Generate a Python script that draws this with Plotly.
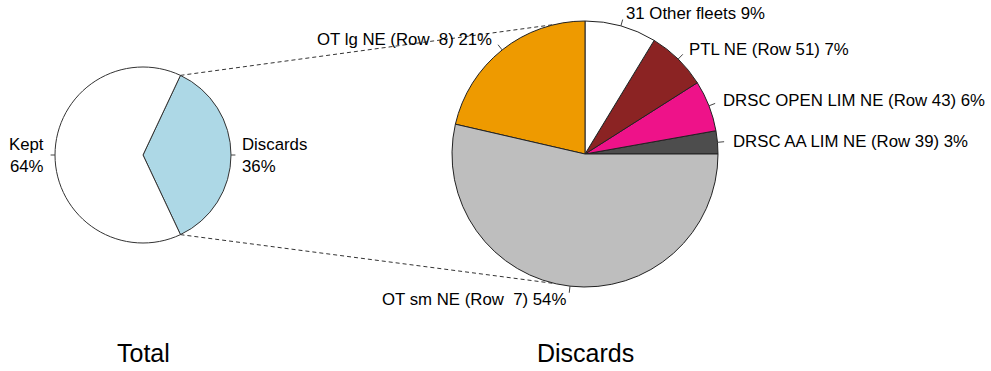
import math
import plotly.graph_objects as go

# ---------------- data ----------------
total_labels = ["Discards", "Kept"]
total_values = [36, 64]
total_colors = ["#ADD8E6", "#FFFFFF"]

disc_labels = ["DRSC AA LIM NE (Row 39)", "DRSC OPEN LIM NE (Row 43)", "PTL NE (Row 51)",
               "31 Other fleets", "OT lg NE (Row\u00a0\u00a08)", "OT sm NE (Row\u00a0\u00a07)"]
disc_values = [2.8, 6.2, 7.3, 8.7, 21.4, 53.6]
disc_colors = ["#4D4D4D", "#EE1289", "#8B2323", "#FFFFFF", "#EE9A00", "#BEBEBE"]

titles = ["Total", "Discards"]

# ---------------- layout geometry (pixels) ----------------
W, H = 991, 371
L_cx, L_cy, L_r = 143, 155, 88
R_cx, R_cy, R_r = 585, 154, 133
FONT = "Liberation Sans, Arial, sans-serif"


def dom(cx, cy, r):
    return dict(x=[(cx - r) / W, (cx + r) / W], y=[1 - (cy + r) / H, 1 - (cy - r) / H])


def px(x, y):
    return x / W, 1 - y / H


fig = go.Figure()

# left pie: Discards slice centred on 3 o'clock
half = total_values[0] / sum(total_values) * 360 / 2
fig.add_trace(go.Pie(labels=total_labels, values=total_values, sort=False,
                     direction="counterclockwise", rotation=90 - half,
                     marker=dict(colors=total_colors, line=dict(color="#333333", width=1)),
                     textinfo="none", domain=dom(L_cx, L_cy, L_r), hoverinfo="label+percent"))

first = disc_values[0] / sum(disc_values) * 360
fig.add_trace(go.Pie(labels=disc_labels, values=disc_values, sort=False,
                     direction="counterclockwise", rotation=90 - first,
                     marker=dict(colors=disc_colors, line=dict(color="#222222", width=1)),
                     textinfo="none", domain=dom(R_cx, R_cy, R_r), hoverinfo="label+percent"))

shapes = []
annotations = []


def label_pie(cx, cy, r, labels, values, twoline, start=0.0):
    tot = sum(values)
    cum = 0
    for lab, v in zip(labels, values):
        mid = start + (cum + v / 2) / tot * 2 * math.pi
        cum += v
        c, s = math.cos(mid), math.sin(mid)
        x0, y0 = px(cx + r * c, cy - r * s)
        x1, y1 = px(cx + 1.05 * r * c, cy - 1.05 * r * s)
        shapes.append(dict(type="line", xref="paper", yref="paper", x0=x0, y0=y0, x1=x1, y1=y1,
                           line=dict(color="#444444", width=1)))
        tx, ty = px(cx + 1.1 * r * c, cy - 1.1 * r * s)
        pct = f"{round(v / tot * 100)}%"
        text = f"{lab}<br>{pct}" if twoline else f"{lab} {pct}"
        annotations.append(dict(xref="paper", yref="paper", x=tx, y=ty, text=text, showarrow=False,
                                xanchor="left" if c > 0 else "right", yanchor="middle",
                                align="left" if c > 0 else "right",
                                font=dict(family=FONT, size=16.8, color="black")))


label_pie(L_cx, L_cy, L_r, total_labels, total_values, True, start=-math.radians(half))
label_pie(R_cx, R_cy, R_r, disc_labels, disc_values, False)

# dashed connectors from the Discards slice edges to the second pie
a = math.radians(half)
tgt = math.radians(77)
for sgn in (1, -1):
    x0, y0 = px(L_cx + L_r * math.cos(a), L_cy - sgn * L_r * math.sin(a))
    x1, y1 = px(R_cx - R_r * math.cos(tgt), R_cy - sgn * R_r * math.sin(tgt))
    shapes.append(dict(type="line", xref="paper", yref="paper", x0=x0, y0=y0, x1=x1, y1=y1,
                       line=dict(color="#333333", width=1, dash="4px,3px")))

for t, cx in zip(titles, (L_cx, R_cx)):
    x, y = px(cx, 353)
    annotations.append(dict(xref="paper", yref="paper", x=x, y=y, text=t, showarrow=False,
                            xanchor="center", yanchor="middle",
                            font=dict(family=FONT, size=25, color="black")))

fig.update_layout(width=W, height=H, margin=dict(l=0, r=0, t=0, b=0),
                  paper_bgcolor="white", plot_bgcolor="white", showlegend=False,
                  shapes=shapes, annotations=annotations)

fig.write_html("out.html")
